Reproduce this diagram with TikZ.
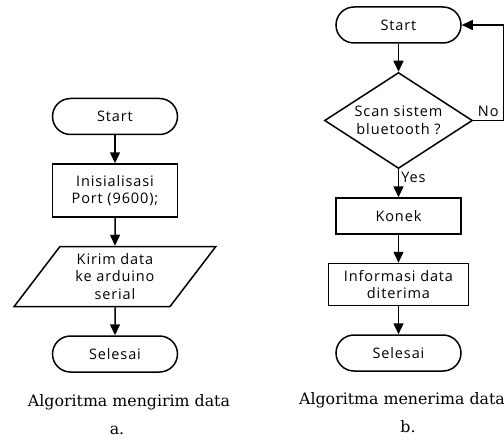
\documentclass[tikz,border=0pt]{standalone}
\usepackage{fontspec}
\setmainfont{DejaVu Serif}
\newfontfamily\boxfont[LetterSpace=6]{Open Sans}
\usetikzlibrary{arrows.meta,positioning,shapes.geometric}

\begin{document}
\begin{tikzpicture}[
  x=1pt, y=1pt,
  font=\boxfont\fontsize{14.5}{17.5}\selectfont,
  node distance=28pt,
  term/.style={
    draw,
    line width=1.5pt,
    rounded corners=18pt,
    minimum width=125pt,
    minimum height=36pt
  },
  box/.style={
    draw,
    line width=1.5pt,
    align=center,
    minimum width=125pt,
    minimum height=36pt
  },
  decision/.style={
    diamond,
    draw,
    line width=1.5pt,
    aspect=1.6,
    inner sep=0pt,
    align=center,
    minimum width=148pt,
    minimum height=96pt
  },
  io/.style={
    trapezium,
    trapezium left angle=56,
    trapezium right angle=124,
    trapezium stretches=true,
    draw,
    line width=1.5pt,
    align=center,
    minimum width=202pt,
    minimum height=60pt
  },
  caption/.style={font=\fontsize{15.8}{18}\selectfont},
  arr/.style={-{Triangle[length=11pt,width=10pt]},line width=1.5pt}
]
\useasboundingbox (0,0) rectangle (504,-444);

\node[term] (startA) at (115,-116.5) {Start};
\node[box, below=of startA, minimum height=53pt] (init) {Inisialisasi\\Port (9600);};
\node[io, below=of init] (send) {Kirim data\\ke arduino\\serial};
\node[term, below=of send] (endA) {Selesai};

\node[term] (startB) at (398.5,-25) {Start};
\node[decision, below=of startB] (scan) {Scan sistem\\bluetooth ?};
\node[box, below=of scan] (konek) {Konek};
\node[box, below=of konek, minimum width=140pt, minimum height=42pt] (info) {Informasi data\\diterima};
\node[term, below=of info] (endB) {Selesai};

\node[caption] (capA) at (129,-402) {Algoritma mengirim data};
\node[caption] (labA) at (117,-430) {a.};
\node[caption] (capB) at (402,-400) {Algoritma menerima data};
\node[caption] (labB) at (408,-427) {b.};

\draw[arr] (startA) -- (init);
\draw[arr] (init) -- (send);
\draw[arr] (send) -- (endA);

\draw[arr] (startB) -- (scan);
\draw[arr] (scan) -- node[right, pos=0.28, inner sep=2pt] {Yes} (konek);
\draw[arr] (scan.east) -- node[above, inner sep=3pt] {No} ++(30,0) |- (startB);
\draw[arr] (konek) -- (info);
\draw[arr] (info) -- (endB);
\end{tikzpicture}
\end{document}
